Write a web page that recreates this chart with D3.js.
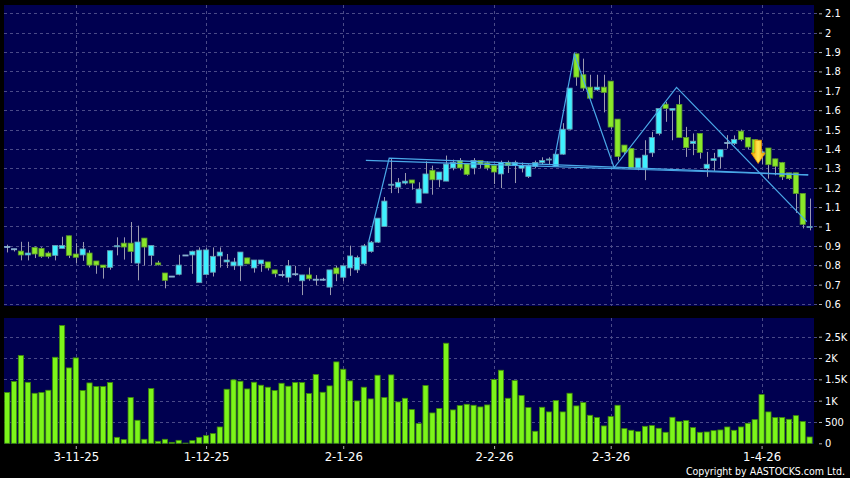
<!DOCTYPE html>
<html><head><meta charset="utf-8">
<script src="https://cdn.jsdelivr.net/npm/d3@7"></script>
<style>html,body{margin:0;padding:0;background:#000;}svg{display:block}</style>
</head><body><svg id="c" width="850" height="478"></svg>
<script>
// ---------- data ----------
const openP  = [0.897,0.885,0.873,0.853,0.892,0.887,0.863,0.851,0.887,0.952,0.858,0.853,0.863,0.822,0.801,0.789,0.895,0.914,0.914,0.811,0.940,0.851,0.812,0.760,0.744,0.753,0.853,0.853,0.710,0.752,0.764,0.848,0.817,0.797,0.797,0.838,0.786,0.807,0.817,0.776,0.752,0.738,0.756,0.720,0.750,0.728,0.728,0.687,0.786,0.738,0.786,0.776,0.807,0.871,0.919,1.000,1.215,1.203,1.224,1.240,1.121,1.172,1.290,1.241,1.234,1.302,1.340,1.324,1.302,1.341,1.328,1.314,1.271,1.331,1.314,1.301,1.258,1.310,1.330,1.345,1.310,1.373,1.502,1.891,1.783,1.719,1.705,1.719,1.750,1.554,1.420,1.403,1.301,1.299,1.380,1.480,1.631,1.600,1.629,1.459,1.428,1.480,1.299,1.340,1.359,1.433,1.428,1.492,1.459,1.449,1.368,1.405,1.349,1.330,1.277,1.277,1.170,0.997];
const highP  = [0.906,0.885,0.921,0.921,0.897,0.893,0.871,0.902,0.947,0.952,0.914,0.920,0.877,0.822,0.801,0.875,0.944,0.944,1.023,1.004,0.940,0.902,0.823,0.760,0.744,0.854,0.853,0.875,0.892,0.889,0.892,0.892,0.858,0.838,0.868,0.838,0.827,0.827,0.817,0.776,0.773,0.827,0.797,0.750,0.788,0.749,0.735,0.776,0.797,0.797,0.901,0.850,0.910,0.925,1.043,1.152,1.353,1.250,1.276,1.240,1.228,1.336,1.314,1.281,1.366,1.345,1.353,1.324,1.353,1.341,1.336,1.314,1.340,1.340,1.340,1.330,1.320,1.340,1.357,1.357,1.373,1.533,1.714,1.891,1.866,1.783,1.783,1.783,1.750,1.554,1.420,1.403,1.353,1.445,1.488,1.609,1.643,1.609,1.678,1.514,1.480,1.480,1.385,1.380,1.397,1.471,1.470,1.500,1.459,1.449,1.390,1.405,1.349,1.333,1.277,1.277,1.170,1.144];
const lowP   = [0.866,0.871,0.825,0.825,0.837,0.838,0.835,0.825,0.887,0.837,0.811,0.823,0.789,0.756,0.731,0.777,0.851,0.829,0.811,0.722,0.799,0.799,0.799,0.681,0.744,0.748,0.853,0.756,0.710,0.752,0.742,0.788,0.786,0.776,0.718,0.807,0.762,0.766,0.773,0.738,0.738,0.711,0.745,0.646,0.720,0.697,0.720,0.646,0.718,0.718,0.745,0.760,0.800,0.865,0.915,1.000,1.172,1.172,1.216,1.190,1.121,1.172,1.164,1.203,1.234,1.290,1.290,1.262,1.269,1.302,1.290,1.219,1.198,1.276,1.224,1.279,1.250,1.300,1.320,1.320,1.310,1.370,1.500,1.726,1.700,1.662,1.700,1.589,1.500,1.340,1.370,1.301,1.290,1.239,1.359,1.470,1.540,1.445,1.459,1.359,1.368,1.350,1.256,1.287,1.299,1.402,1.420,1.440,1.400,1.360,1.320,1.247,1.264,1.240,1.240,1.070,0.990,0.980];
const closeP = [0.897,0.885,0.853,0.863,0.858,0.846,0.846,0.902,0.902,0.851,0.841,0.884,0.801,0.801,0.789,0.875,0.901,0.894,0.871,0.920,0.894,0.902,0.802,0.722,0.744,0.801,0.853,0.872,0.878,0.879,0.846,0.868,0.827,0.817,0.868,0.807,0.827,0.827,0.786,0.756,0.752,0.797,0.756,0.750,0.730,0.728,0.728,0.776,0.756,0.797,0.848,0.840,0.900,0.919,1.043,1.131,1.218,1.228,1.234,1.224,1.193,1.271,1.241,1.281,1.322,1.331,1.302,1.269,1.341,1.322,1.302,1.281,1.331,1.314,1.331,1.316,1.316,1.330,1.340,1.348,1.373,1.502,1.714,1.771,1.714,1.662,1.719,1.692,1.513,1.361,1.384,1.301,1.353,1.368,1.459,1.609,1.609,1.609,1.459,1.407,1.440,1.382,1.321,1.350,1.397,1.433,1.449,1.449,1.410,1.376,1.385,1.319,1.311,1.256,1.247,1.170,1.011,1.000];
const volume = [1190,1448,2058,1430,1173,1190,1244,2018,2762,1768,2003,1237,1416,1330,1330,1424,140,86,1072,540,94,1283,47,94,23,70,5,62,140,180,227,383,1268,1487,1455,1275,1432,1362,1315,1237,1408,1338,1424,1424,1166,1612,1197,1346,1909,1737,1463,994,1315,1041,1596,1072,1604,970,1056,790,462,1354,712,814,2347,783,884,915,892,853,900,1495,1713,1056,1471,1119,837,282,845,736,1002,736,1174,877,955,657,603,407,626,892,344,305,274,399,415,352,258,610,509,532,368,258,266,297,313,383,305,383,469,555,1142,736,603,603,563,649,509,148];
const xTickIdx = [10,29,49,71,88,110];
const xTickLabels = ["3-11-25","1-12-25","2-1-26","2-2-26","2-3-26","1-4-26"];
const priceTicks = [0.6,0.7,0.8,0.9,1.0,1.1,1.2,1.3,1.4,1.5,1.6,1.7,1.8,1.9,2.0,2.1];
const volTicks = [0,500,1000,1500,2000,2500];
const volTickLabels = ["0","500","1K","1.5K","2K","2.5K"];
// drawn pattern lines: [bar index, price]
const trendLines = [
  [[52.7,0.92],[55.7,1.353],[116.8,1.266]],
  [[52.3,1.341],[116.8,1.266]],
  [[79.6,1.312],[82.7,1.89],[88.5,1.303],[97.6,1.718],[116.6,1.025]]
];
const arrowMark = {i:109.5, top:1.445, tip:1.325};

// ---------- layout ----------
const svg = d3.select("#c");
const P = {l:4, r:814, t:5, b:306};      // price panel
const V = {l:4, r:814, t:318, b:444};    // volume panel
const n = closeP.length;
const x = d3.scaleLinear().domain([0, n-1]).range([7.2, 7.2 + (n-1)*6.858]);
const yP = d3.scaleLinear().domain([0.6, 2.1]).range([304, 13.3]);
const yV = d3.scaleLinear().domain([0, 2500]).range([443.3, 336.7]);
const FONT = "'DejaVu Sans Condensed','DejaVu Sans',sans-serif";
const panelFill = "#000050", gridCol = "#4a4a88";

svg.append("rect").attr("width",850).attr("height",478).attr("fill","#000");
[P,V].forEach(p => svg.append("rect").attr("x",p.l).attr("y",p.t)
  .attr("width",p.r-p.l).attr("height",p.b-p.t).attr("fill",panelFill));

// grid
const g = svg.append("g").attr("stroke",gridCol).attr("stroke-width",1).attr("stroke-dasharray","3,3").attr("shape-rendering","crispEdges");
priceTicks.forEach(t => g.append("line").attr("x1",P.l).attr("x2",P.r+4).attr("y1",Math.round(yP(t))+0.5).attr("y2",Math.round(yP(t))+0.5));
volTicks.slice(1).forEach(t => g.append("line").attr("x1",V.l).attr("x2",V.r+4).attr("y1",Math.round(yV(t))+0.5).attr("y2",Math.round(yV(t))+0.5));
xTickIdx.forEach(i => {
  const xx = Math.round(x(i))+0.5;
  g.append("line").attr("x1",xx).attr("x2",xx).attr("y1",P.t).attr("y2",P.b);
  g.append("line").attr("x1",xx).attr("x2",xx).attr("y1",V.t).attr("y2",V.b);
});

// axes
const axP = d3.axisRight(yP).tickValues(priceTicks).tickSize(3).tickPadding(3)
  .tickFormat(d => String(+d.toFixed(1)));
const gP = svg.append("g").attr("transform",`translate(${P.r+5},0)`).call(axP);
const axV = d3.axisRight(yV).tickValues(volTicks).tickSize(3).tickPadding(3)
  .tickFormat((d,k) => volTickLabels[k]);
const gV = svg.append("g").attr("transform",`translate(${V.r+5},0)`).call(axV);
const axX = d3.axisBottom(x).tickValues(xTickIdx).tickSize(3).tickPadding(3)
  .tickFormat((d,k) => xTickLabels[k]);
const gX = svg.append("g").attr("transform",`translate(0,${V.b+2})`).call(axX);
[gP,gV,gX].forEach(a => {
  a.select(".domain").remove();
  a.selectAll(".tick line").attr("stroke","#b0b0b0");
  a.selectAll(".tick text").attr("fill","#fff").style("font-family",FONT);
});
gP.selectAll(".tick text").style("font-size","11px");
gV.selectAll(".tick text").style("font-size","11px");
gX.selectAll(".tick text").style("font-size","13px");

// volume bars
svg.append("g").selectAll("rect").data(volume).join("rect")
  .attr("x",(d,i)=>x(i)-2.6).attr("width",5.2)
  .attr("y",d=>yV(d)).attr("height",d=>Math.max(0,yV(0)-yV(d)))
  .attr("fill","#7cf51a").attr("stroke","#3f8a0a").attr("stroke-width",0.8);

// candles
const idx = d3.range(n);
const cg = svg.append("g");
cg.selectAll("line").data(idx).join("line")
  .attr("x1",i=>Math.round(x(i))+0.5).attr("x2",i=>Math.round(x(i))+0.5)
  .attr("y1",i=>yP(highP[i])).attr("y2",i=>yP(lowP[i]))
  .attr("stroke","#9a9ab0").attr("stroke-width",1);
cg.selectAll("rect").data(idx).join("rect")
  .attr("x",i=>x(i)-2.6).attr("width",5.2)
  .attr("y",i=>yP(Math.max(openP[i],closeP[i])))
  .attr("height",i=>Math.max(1,Math.abs(yP(openP[i])-yP(closeP[i]))))
  .attr("fill",i=>closeP[i]>openP[i]?"#3ff0ff":(closeP[i]<openP[i]?"#8ae82a":"#8ab4d0"))
  .attr("stroke",i=>closeP[i]>openP[i]?"#6a9ab0":(closeP[i]<openP[i]?"#5a9a2a":"#8ab4d0"))
  .attr("stroke-width",0.8);

// pattern lines
const line = d3.line().x(d=>x(d[0])).y(d=>yP(d[1]));
svg.append("g").selectAll("path").data(trendLines).join("path")
  .attr("d",line).attr("fill","none").attr("stroke","#4aa8e8").attr("stroke-width",1.2);

// arrow
const ax = x(arrowMark.i), yt = yP(arrowMark.top), yb = yP(arrowMark.tip);
const headH = (yb-yt)*0.45;
const defs = svg.append("defs");
const gr = defs.append("linearGradient").attr("id","ag").attr("x1",0).attr("x2",1).attr("y1",0).attr("y2",0);
gr.append("stop").attr("offset","0").attr("stop-color","#f0a000");
gr.append("stop").attr("offset","0.5").attr("stop-color","#ffe850");
gr.append("stop").attr("offset","1").attr("stop-color","#f0a000");
svg.append("path")
  .attr("d",`M${ax-3.3},${yt} L${ax+3.3},${yt} L${ax+3.3},${yb-headH} L${ax+7},${yb-headH} L${ax},${yb} L${ax-7},${yb-headH} L${ax-3.3},${yb-headH} Z`)
  .attr("fill","url(#ag)").attr("stroke","#e89000").attr("stroke-width",0.8);

// copyright
svg.append("text").attr("x",845).attr("y",475).attr("text-anchor","end")
  .attr("fill","#fff").style("font-family",FONT).style("font-size","10.5px")
  .text("Copyright by AASTOCKS.com Ltd.");
</script></body></html>
